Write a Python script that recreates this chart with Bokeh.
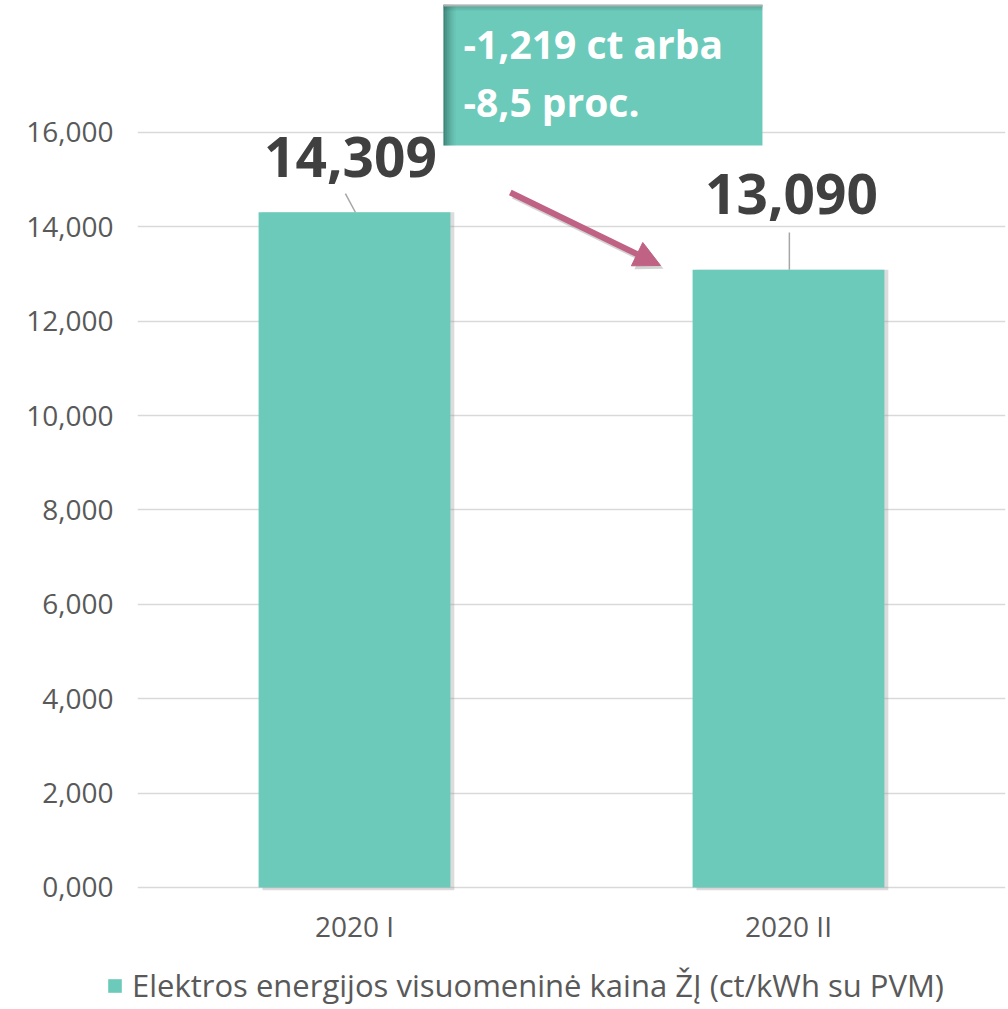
from bokeh.plotting import figure
from bokeh.models import (FactorRange, Range1d, ColumnDataSource, FixedTicker,
                          Legend, LegendItem, Arrow, NormalHead)
from bokeh.transform import dodge
from bokeh.core.properties import value
from bokeh.embed import file_html
from bokeh.resources import INLINE

# ---- data ----
categories = ["2020 I", "2020 II"]
prices = [14.309, 13.090]
value_labels = ["14,309", "13,090"]
tick_values = [0, 2, 4, 6, 8, 10, 12, 14, 16]
tick_labels = ["0,000", "2,000", "4,000", "6,000", "8,000",
               "10,000", "12,000", "14,000", "16,000"]
series_name = "Elektros energijos visuomeninė kaina ŽĮ (ct/kWh su PVM)"
change_lines = ["-1,219 ct arba", "-8,5 proc."]

# ---- style ----
FONT = "Open Sans"
BAR = "#6CCABA"
GRID = "#D9D9D9"
AXIS_TXT = "#595959"
LABEL_TXT = "#404040"
ARROW_C = "#BF6283"
PXY = 47.19  # pixels per y unit

cat_pos = [i + 0.5 for i in range(len(categories))]  # synthetic coordinates

p = figure(x_range=FactorRange(*categories, range_padding=0),
           y_range=Range1d(-0.085, 18.712),
           width=1008, height=960, output_backend="svg", toolbar_location=None,
           min_border_left=137, min_border_right=3, min_border_top=4,
           min_border_bottom=69)
p.outline_line_color = None
p.background_fill_color = "white"
p.xgrid.grid_line_color = None
p.ygrid.grid_line_color = GRID
p.ygrid.grid_line_width = 1.5

p.yaxis.ticker = FixedTicker(ticks=tick_values)
p.yaxis.major_label_overrides = {t: l for t, l in zip(tick_values, tick_labels)}
for ax in (p.xaxis, p.yaxis):
    ax.axis_line_color = None
    ax.major_tick_line_color = None
    ax.minor_tick_line_color = None
    ax.major_tick_out = 0
    ax.major_tick_in = 0
    ax.major_label_text_font = FONT
    ax.major_label_text_font_size = "28px"
    ax.major_label_text_color = AXIS_TXT
p.yaxis.major_label_standoff = 24
p.xaxis.major_label_standoff = 15

src = ColumnDataSource(dict(cat=categories, price=prices, lbl=value_labels,
                            lbl_y=[v + d for v, d in zip(prices, [0.715 + 22 / PXY, 1.15 + 22 / PXY])],
                            lbl_dx=[-4, 3]))

# bar shadow
p.vbar(x=dodge("cat", 0.009, range=p.x_range), top="price", bottom=-0.06,
       width=0.442, source=src, fill_color="#9a9a9a", fill_alpha=0.35, line_color=None)
bars = p.vbar(x="cat", top="price", width=0.442, source=src,
              fill_color=BAR, line_color=None)

# leader lines
p.segment(x0=[cat_pos[0] - 0.021, cat_pos[1] + 0.002],
          y0=[prices[0] + 0.397, prices[1] + 0.79],
          x1=[cat_pos[0] + 0.002, cat_pos[1] + 0.002],
          y1=[prices[0], prices[1]],
          line_color="#A6A6A6", line_width=1.5)

# value labels
p.text(x="cat", y="lbl_y", text="lbl", source=src, x_offset="lbl_dx",
       text_font=value(FONT), text_font_style="bold", text_font_size="55px",
       text_color=LABEL_TXT, text_align="center", text_baseline="alphabetic")

# annotation box
bl, br = cat_pos[0] + 0.205, cat_pos[1] - 0.06
bb, bt = 15.724, 18.712
p.quad(left=[bl], right=[br], bottom=[bb], top=[bt], fill_color=BAR, line_color=None)
px = 1 / 434.0
for k, a in enumerate([0.55, 0.42, 0.3, 0.2, 0.12, 0.06]):
    p.quad(left=[bl + k * 2 * px], right=[bl + (k + 1) * 2 * px], bottom=[bb], top=[bt],
           fill_color="#1F4F47", fill_alpha=a, line_color=None)
for k, a in enumerate([0.35, 0.2, 0.1]):
    p.quad(left=[bl], right=[br], bottom=[bt - (k + 1) * 2 / PXY], top=[bt - k * 2 / PXY],
           fill_color="#1F4F47", fill_alpha=a, line_color=None)
p.segment(x0=[bl], x1=[br], y0=[bt - 0.02], y1=[bt - 0.02], line_color="#B0B0B0", line_width=2)

p.text(x=[bl + 0.046, bl + 0.046], y=[17.525 + 17 / PXY, 16.296 + 17 / PXY], text=change_lines,
       text_font=value(FONT), text_font_style="bold", text_font_size="39px",
       text_color="white", text_align="left", text_baseline="alphabetic")

# arrow with shadow
xs, ys, xe, ye = cat_pos[0] + 0.359, 14.728, cat_pos[1] - 0.295, 13.181
p.add_layout(Arrow(end=NormalHead(size=26, fill_color="#808080", fill_alpha=0.35, line_color=None),
                   x_start=xs + 3 * px, y_start=ys - 0.07, x_end=xe + 3 * px, y_end=ye - 0.07,
                   line_color="#808080", line_alpha=0.35, line_width=6))
p.add_layout(Arrow(end=NormalHead(size=26, fill_color=ARROW_C, line_color=ARROW_C),
                   x_start=xs, y_start=ys, x_end=xe, y_end=ye,
                   line_color=ARROW_C, line_width=6))

# ---- legend strip (separate root so its frame is independent) ----
lf = figure(width=1008, height=49, output_backend="svg", toolbar_location=None,
            x_range=Range1d(0, 1), y_range=Range1d(0, 1),
            min_border_left=0, min_border_right=0, min_border_top=0, min_border_bottom=0)
lf.axis.visible = False
lf.grid.visible = False
lf.outline_line_color = None
swatch = lf.vbar(x=[0.5], top=[0], bottom=[0], width=0.0, fill_color=BAR, line_color=None)
legend = Legend(items=[LegendItem(label=series_name, renderers=[swatch])],
                location=(106, 3), orientation="horizontal",
                glyph_width=17, glyph_height=17, label_height=30, label_standoff=9,
                label_text_font=FONT, label_text_font_size="31px",
                label_text_color=AXIS_TXT, padding=0, margin=0, spacing=0,
                border_line_color=None, background_fill_alpha=0)
lf.add_layout(legend, "center")

open("out.html", "w").write(file_html([p, lf], INLINE))
